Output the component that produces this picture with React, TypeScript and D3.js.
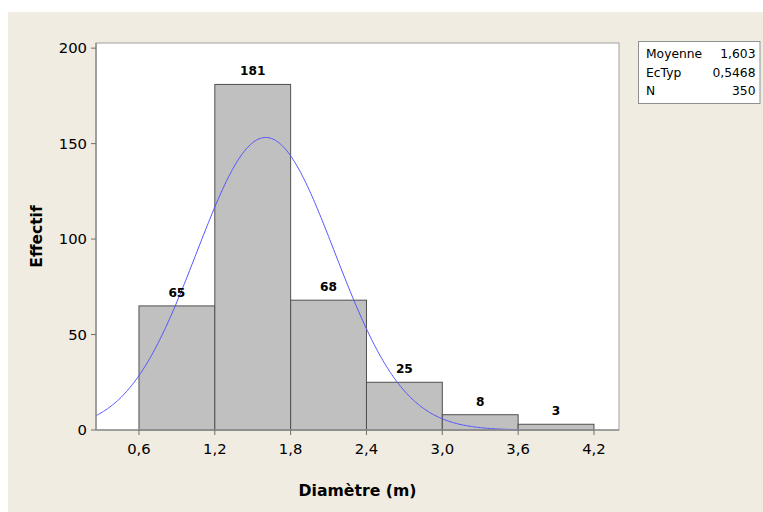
import React from "react";
import * as d3 from "d3";

const binStarts = [0.6, 1.2, 1.8, 2.4, 3.0, 3.6];
const binWidth = 0.6;
const counts = [65, 181, 68, 25, 8, 3];
const xTicks = [0.6, 1.2, 1.8, 2.4, 3.0, 3.6, 4.2];
const yTicks = [0, 50, 100, 150, 200];
const statLabels = ["Moyenne", "EcTyp", "N"];
const statValues = ["1,603", "0,5468", "350"];
const mean = 1.603;
const sd = 0.5468;
const total = 350;

const W = 763;
const H = 512;
const font = "'DejaVu Sans', Verdana, sans-serif";

export default function App() {
  const left = 96, right = 619, top = 43, bottom = 430;
  const x = d3.scaleLinear().domain([0.26, 4.398]).range([left, right]);
  const y = d3.scaleLinear().domain([0, 202.7]).range([bottom, top]);

  const curveXs = d3.range(0.26, 3.62, 0.01);
  const density = (v: number) =>
    (total * binWidth) / (sd * Math.sqrt(2 * Math.PI)) * Math.exp(-0.5 * ((v - mean) / sd) ** 2);
  const line = d3.line<number>().x((v) => x(v)).y((v) => y(density(v)));

  const fmt = (v: number) => v.toFixed(1).replace(".", ",");

  return (
    <svg width={W} height={H} style={{ position: "absolute", left: 0, top: 0 }}>
      <rect x={0} y={0} width={W} height={H} fill="#ffffff" />
      <rect x={8} y={12} width={W - 8} height={H - 12} fill="#f0ece2" />
      <rect x={left} y={top} width={right - left} height={bottom - top} fill="#ffffff" stroke="#a0a0a0" strokeWidth={1} />

      {counts.map((c, i) => (
        <rect
          key={i}
          x={x(binStarts[i])}
          y={y(c)}
          width={x(binStarts[i] + binWidth) - x(binStarts[i])}
          height={bottom - y(c)}
          fill="#c0c0c0"
          stroke="#505050"
          strokeWidth={1}
        />
      ))}

      <path d={line(curveXs) || ""} fill="none" stroke="#5555ff" strokeWidth={1} />

      {counts.map((c, i) => (
        <text
          key={"l" + i}
          x={x(binStarts[i] + binWidth / 2)}
          y={y(c) - 9}
          textAnchor="middle"
          fontFamily={font}
          fontWeight="bold"
          fontSize={12.2}
          fill="#000"
        >
          {c}
        </text>
      ))}

      {/* axes */}
      <line x1={left} y1={top} x2={left} y2={bottom} stroke="#909090" strokeWidth={1.5} />
      <line x1={left} y1={bottom} x2={right} y2={bottom} stroke="#909090" strokeWidth={1.5} />

      {yTicks.map((t) => (
        <g key={"y" + t}>
          <line x1={left - 5} x2={left} y1={y(t)} y2={y(t)} stroke="#707070" />
          <text x={left - 9} y={y(t)} dy="0.36em" textAnchor="end" fontFamily={font} fontSize={14.8} fill="#000">
            {t}
          </text>
        </g>
      ))}

      {xTicks.map((t) => (
        <g key={"x" + t}>
          <line x1={x(t)} x2={x(t)} y1={bottom} y2={bottom + 5} stroke="#707070" />
          <text x={x(t)} y={453.5} textAnchor="middle" fontFamily={font} fontSize={14.8} fill="#000">
            {fmt(t)}
          </text>
        </g>
      ))}

      <text x={(left + right) / 2} y={496} textAnchor="middle" fontFamily={font} fontWeight="bold" fontSize={15.7} fill="#000">
        Diamètre (m)
      </text>
      <text
        transform={`translate(41.5, ${(top + bottom) / 2}) rotate(-90)`}
        textAnchor="middle"
        fontFamily={font}
        fontWeight="bold"
        fontSize={15.5}
        fill="#000"
      >
        Effectif
      </text>

      {/* stats box */}
      <rect x={638.5} y={41.5} width={121.5} height={62} fill="#ffffff" stroke="#909090" strokeWidth={1} />
      {statLabels.map((s, i) => (
        <g key={"s" + i}>
          <text x={646} y={58.3 + i * 18.3} fontFamily={font} fontSize={12.3} fill="#000">
            {s}
          </text>
          <text x={755.5} y={58.3 + i * 18.3} textAnchor="end" fontFamily={font} fontSize={12.3} fill="#000">
            {statValues[i]}
          </text>
        </g>
      ))}
    </svg>
  );
}
